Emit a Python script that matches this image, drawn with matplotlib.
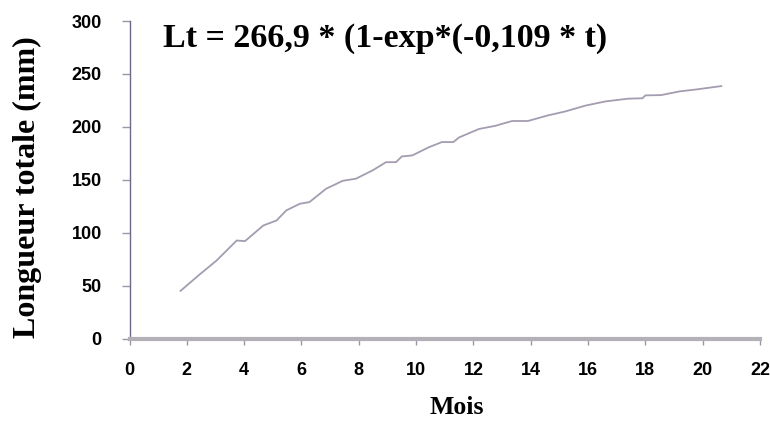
import matplotlib
matplotlib.use("Agg")
import matplotlib.pyplot as plt

# Data
mois = [1.78, 2.47, 3.04, 3.74, 4.03, 4.67, 5.13, 5.47, 5.94, 6.28, 6.86, 7.44,
        7.90, 8.48, 8.95, 9.30, 9.50, 9.87, 10.45, 10.90, 11.30, 11.50, 12.20,
        12.77, 13.35, 13.90, 14.60, 15.20, 15.90, 16.60, 17.40, 17.90, 18.00,
        18.55, 19.20, 19.80, 20.65]
longueur = [45.0, 61.0, 73.7, 92.6, 92.0, 106.8, 111.5, 121.0, 127.3, 128.9,
            141.5, 149.0, 151.0, 158.8, 166.6, 166.6, 172.0, 173.0, 180.8,
            185.6, 185.6, 190.0, 198.0, 201.0, 205.5, 205.5, 210.8, 214.5,
            220.0, 224.0, 226.6, 227.0, 229.7, 230.0, 233.5, 235.4, 238.5]
x_ticks = list(range(0, 23, 2))
y_ticks = list(range(0, 301, 50))
titre = "Lt = 266,9 * (1-exp*(-0,109 * t)"

W, H = 770, 421
fig = plt.figure(figsize=(W / 100, H / 100), dpi=100)
ax = fig.add_axes([129.5 / W, 1 - 338.5 / H, (760 - 129.5) / W, (338.5 - 21) / H])

ax.plot(mois, longueur, color="#a49cb0", lw=1.3)

ax.set_xlim(0, 22)
ax.set_ylim(0, 300)
ax.set_xticks(x_ticks)
ax.set_yticks(y_ticks)
for s in ["top", "right"]:
    ax.spines[s].set_visible(False)
ax.spines["left"].set_color("#6a6a88")
ax.spines["left"].set_linewidth(1.0)
ax.spines["bottom"].set_color("#b4b0b8")
ax.spines["bottom"].set_linewidth(3.0)
ax.tick_params(axis="x", direction="out", length=4, width=1, color="#9a98a8",
               pad=13)
ax.tick_params(axis="y", direction="out", length=6, width=1, color="#9a98a8",
               pad=14)
for lab in ax.get_xticklabels() + ax.get_yticklabels():
    lab.set_fontfamily("Liberation Sans")
    lab.set_fontweight("bold")
    lab.set_fontsize(13)
    lab.set_color("#000000")

fig.text(457 / W, 1 - 414 / H, "Mois", ha="center", va="baseline",
         fontfamily="Liberation Serif", fontweight="bold", fontsize=18.5)
fig.text(27 / W, 1 - 187 / H, "Longueur totale (mm)", rotation=90,
         ha="center", va="center", fontfamily="Liberation Serif",
         fontweight="bold", fontsize=23)
fig.text(163 / W, 1 - 46.7 / H, titre, ha="left", va="baseline",
         fontfamily="Liberation Serif", fontweight="bold", fontsize=24.5)

fig.savefig("out.png", dpi=100)
